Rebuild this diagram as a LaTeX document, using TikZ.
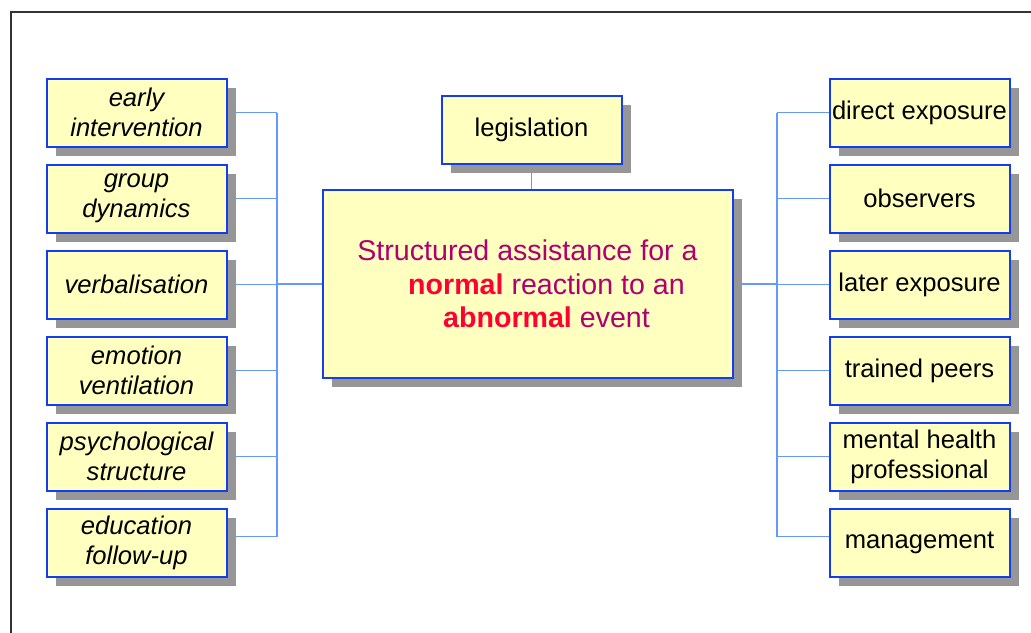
\documentclass[tikz,border=0pt]{standalone}
\usepackage{fontspec}
\setmainfont{Liberation Sans}
\usetikzlibrary{positioning,shadows,backgrounds}
\definecolor{boxfill}{RGB}{255,255,192}
\definecolor{boxline}{RGB}{20,60,240}
\definecolor{linkblue}{RGB}{102,153,255}
\definecolor{shadowgray}{RGB}{150,150,150}
\definecolor{framegray}{RGB}{51,51,51}
\definecolor{mainpurple}{RGB}{176,0,112}
\definecolor{keyred}{RGB}{255,0,51}
\begin{document}
\begin{tikzpicture}[
			x=0.5pt, y=-0.5pt,
			node distance=8pt,
			box/.style={draw=boxline, line width=1pt, fill=boxfill,
					minimum width=90pt, minimum height=34pt, inner sep=1pt, align=center,
					font=\fontsize{12.8}{15}\selectfont,
					general shadow={fill=shadowgray, shadow xshift=4.5pt, shadow yshift=-4.5pt}},
			method/.style={box, font=\fontsize{12.8}{15}\selectfont\itshape},
			link/.style={draw=linkblue, line width=0.8pt}
		]
		\useasboundingbox (0,0) rectangle (1031,632);
		\draw[framegray, line width=1pt] (11,640) |- (1040,12);

		% centre
		\node[box, minimum width=205pt, minimum height=94pt, text=mainpurple,
			font=\fontsize{14.3}{16.75}\selectfont] (centre) at (527.5,284)
			{Structured assistance for a\\
				\hspace*{19pt}\textcolor{keyred}{\textbf{normal}} reaction to an\\
				\hspace*{19pt}\textcolor{keyred}{\textbf{abnormal}} event};
		\node[box] (law) at (531.5,129.5) {legislation};

		% left column
		\node[method] (early) at (136.5,112.5) {early\\intervention};
		\node[method, below=of early] (group) {group\\dynamics};
		\node[method, below=of group] (verbal) {verbalisation};
		\node[method, below=of verbal] (emotion) {emotion\\ventilation};
		\node[method, below=of emotion] (psych) {psychological\\structure};
		\node[method, below=of psych] (edu) {education\\follow-up};

		% right column
		\node[box] (direct) at (919.5,112.5) {direct exposure};
		\node[box, below=of direct] (observers) {observers};
		\node[box, below=of observers] (later) {later exposure};
		\node[box, below=of later] (peers) {trained peers};
		\node[box, below=of peers] (mental) {mental health\\professional};
		\node[box, below=of mental] (management) {management};

		\coordinate (lspine) at (277,0);
		\coordinate (rspine) at (777,0);

		\begin{scope}[on background layer]
			\draw[link] (law.south) -- (law.south |- centre.north);
			\draw[link] (centre.west) -- (centre.west -| lspine);
			\draw[link] (centre.east) -- (centre.east -| rspine);
			% left links
			\draw[link] (early.east -| lspine) -- ([yshift=3pt]edu.east -| lspine);
			\draw[link] (early.east) -- (early.east -| lspine);
			\draw[link] (group.east) -- (group.east -| lspine);
			\draw[link] (verbal.east) -- (verbal.east -| lspine);
			\draw[link] (emotion.east) -- (emotion.east -| lspine);
			\draw[link] (psych.east) -- (psych.east -| lspine);
			\draw[link] ([yshift=3pt]edu.east) -- ([yshift=3pt]edu.east -| lspine);
			% right links
			\draw[link] (direct.west -| rspine) -- ([yshift=3pt]management.west -| rspine);
			\draw[link] (direct.west) -- (direct.west -| rspine);
			\draw[link] (observers.west) -- (observers.west -| rspine);
			\draw[link] (later.west) -- (later.west -| rspine);
			\draw[link] (peers.west) -- (peers.west -| rspine);
			\draw[link] (mental.west) -- (mental.west -| rspine);
			\draw[link] ([yshift=3pt]management.west) -- ([yshift=3pt]management.west -| rspine);
		\end{scope}
	\end{tikzpicture}
\end{document}
